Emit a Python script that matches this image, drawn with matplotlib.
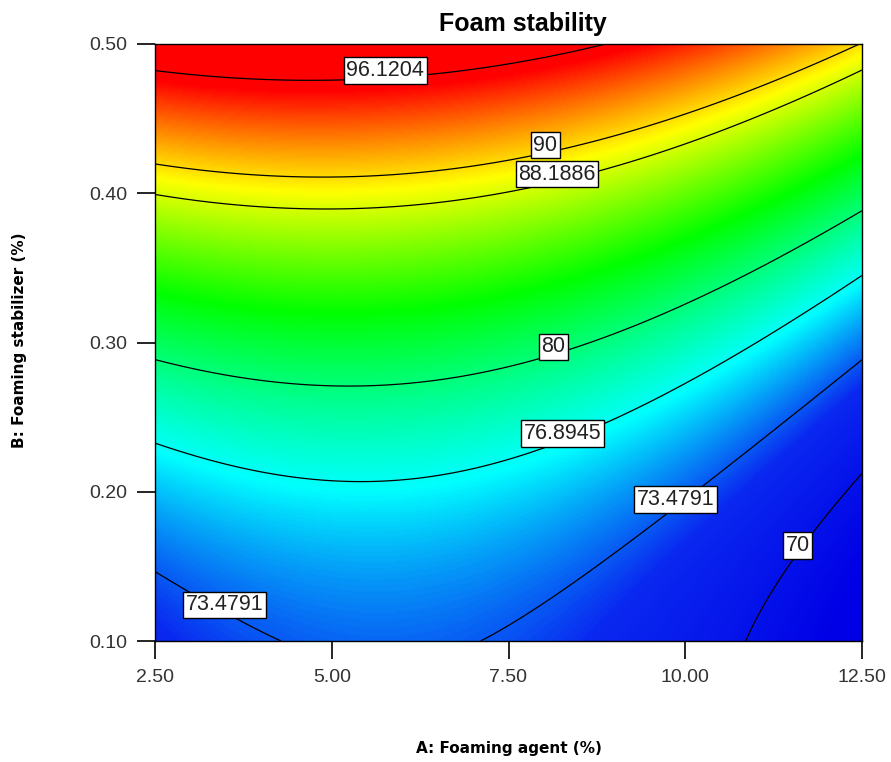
import numpy as np
import matplotlib
matplotlib.use("Agg")
import matplotlib.pyplot as plt
from matplotlib.colors import LinearSegmentedColormap, Normalize

# quadratic response surface in coded units (a, b in -1..1)
model_terms = ["const", "A", "B", "AB", "A2", "B2"]
model_coefs = [80.95, -3.3, 12.1, -0.75, -3.53, 4.45]

agent_range = [2.5, 12.5]        # A: Foaming agent (%)
stabilizer_range = [0.10, 0.50]  # B: Foaming stabilizer (%)

x_ticks = [2.5, 5.0, 7.5, 10.0, 12.5]
y_ticks = [0.10, 0.20, 0.30, 0.40, 0.50]

contour_levels = [70, 73.4791, 76.8945, 80, 88.1886, 90, 96.1204]
label_spots = [(11.62, 0.158), (3.53, 0.123), (9.88, 0.189), (8.27, 0.233),
               (8.13, 0.293), (8.19, 0.4075), (8.02, 0.4276), (5.75, 0.4806)]

# colour stops in response units
color_vals = [68.0, 72.5, 76.6, 83.0, 89.2, 95.5]
color_list = ["#0000e6", "#0a28f0", "#00ffff", "#00ff00", "#ffff00", "#ff0000"]

plt.rcParams["font.family"] = ["Liberation Sans", "DejaVu Sans"]

# evaluate the model on a grid
A = np.linspace(agent_range[0], agent_range[1], 400)
B = np.linspace(stabilizer_range[0], stabilizer_range[1], 400)
AA, BB = np.meshgrid(A, B)
a = (AA - np.mean(agent_range)) / (np.diff(agent_range)[0] / 2)
b = (BB - np.mean(stabilizer_range)) / (np.diff(stabilizer_range)[0] / 2)
c = dict(zip(model_terms, model_coefs))
Z = (c["const"] + c["A"] * a + c["B"] * b + c["AB"] * a * b
     + c["A2"] * a ** 2 + c["B2"] * b ** 2)

v0, v1 = color_vals[0], color_vals[-1]
stops = [(v - v0) / (v1 - v0) for v in color_vals]
cmap = LinearSegmentedColormap.from_list("de", list(zip(stops, color_list)))

fig = plt.figure(figsize=(8.91, 7.62), dpi=100)
ax = fig.add_axes([155 / 891, 121 / 762, 707 / 891, 597 / 762])

ax.imshow(Z, origin="lower", aspect="auto", cmap=cmap, norm=Normalize(v0, v1),
          extent=[agent_range[0], agent_range[1], stabilizer_range[0], stabilizer_range[1]],
          interpolation="bilinear")
cs = ax.contour(AA, BB, Z, levels=contour_levels, colors="black", linewidths=0.9)
labels = ax.clabel(cs, fmt={lv: f"{lv:g}" for lv in contour_levels},
                   manual=label_spots, inline=False, fontsize=15.5)
for t in labels:
    x, y = t.get_position()
    t.set_position((x, y + 0.005))
    t.set_rotation(0)
    t.set_color("#222222")
    t.set_bbox(dict(facecolor="white", edgecolor="black", pad=1.8, linewidth=1.0))

ax.set_xlim(agent_range)
ax.set_ylim(stabilizer_range)
ax.set_xticks(x_ticks)
ax.set_xticklabels([f"{v:.2f}" for v in x_ticks])
ax.set_yticks(y_ticks)
ax.set_yticklabels([f"{v:.2f}" for v in y_ticks])
ax.tick_params(direction="out", length=13, width=1.2, pad=7,
               labelsize=14, labelcolor="#333333")
for s in ax.spines.values():
    s.set_linewidth(1.0)

fig.text(523 / 891, 1 - 24 / 762, "Foam stability", ha="center", va="center",
         fontsize=18, fontweight="bold")
fig.text(509 / 891, 1 - 748 / 762, "A: Foaming agent (%)", ha="center", va="center",
         fontsize=11, fontweight="bold", family="DejaVu Sans")
fig.text(20 / 891, 1 - 340 / 762, "B: Foaming stabilizer (%)", ha="center", va="center",
         rotation=90, fontsize=11, fontweight="bold", family="DejaVu Sans")

fig.savefig("out.png", dpi=100)
